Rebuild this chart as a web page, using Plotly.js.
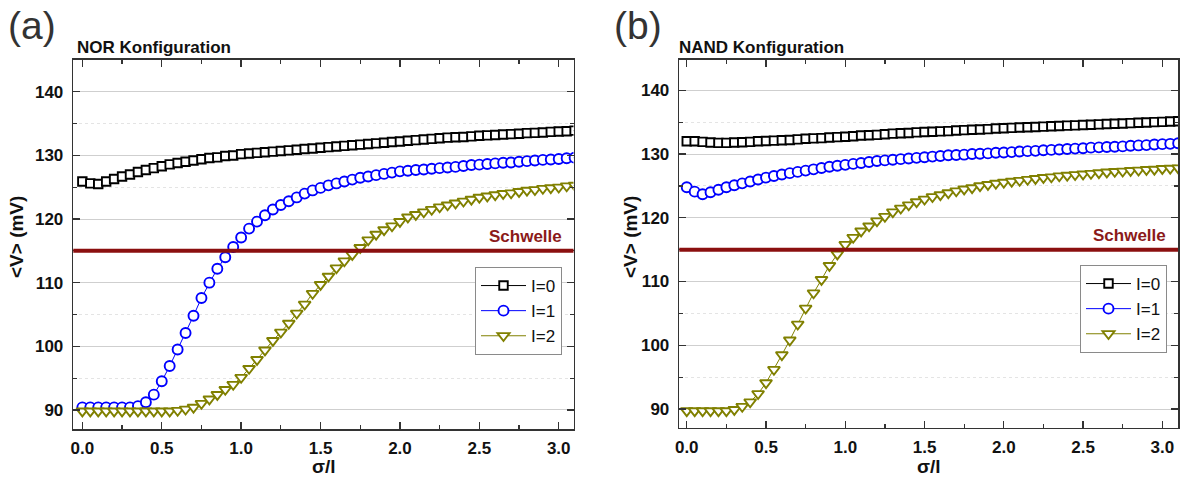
<!DOCTYPE html>
<html>
<head>
<meta charset="utf-8">
<script src="https://cdn.plot.ly/plotly-3.0.1.min.js"></script>
<style>
  html, body { margin: 0; padding: 0; background: #ffffff; }
  #chart { width: 1183px; height: 477px; }
</style>
</head>
<body>
<div id="chart"></div>
<script>
// sigma/l sample positions (shared by every curve)
const sigma = [
  0.00, 0.05, 0.10, 0.15, 0.20, 0.25, 0.30, 0.35, 0.40, 0.45,
  0.50, 0.55, 0.60, 0.65, 0.70, 0.75, 0.80, 0.85, 0.90, 0.95,
  1.00, 1.05, 1.10, 1.15, 1.20, 1.25, 1.30, 1.35, 1.40, 1.45,
  1.50, 1.55, 1.60, 1.65, 1.70, 1.75, 1.80, 1.85, 1.90, 1.95,
  2.00, 2.05, 2.10, 2.15, 2.20, 2.25, 2.30, 2.35, 2.40, 2.45,
  2.50, 2.55, 2.60, 2.65, 2.70, 2.75, 2.80, 2.85, 2.90, 2.95,
  3.00, 3.05, 3.10
];

// (a) NOR configuration, <V> in mV
const norI0 = [
  125.9, 125.6, 125.5, 125.9, 126.3, 126.7, 127.0, 127.4, 127.7, 128.0,
  128.3, 128.6, 128.8, 129.0, 129.2, 129.4, 129.6, 129.7, 129.9, 130.0,
  130.2, 130.3, 130.4, 130.5, 130.6, 130.7, 130.8, 130.9, 131.0, 131.1,
  131.2, 131.3, 131.4, 131.5, 131.6, 131.7, 131.8, 131.9, 132.0, 132.1,
  132.2, 132.3, 132.4, 132.5, 132.6, 132.7, 132.8, 132.85, 132.9, 133.0,
  133.1, 133.15, 133.2, 133.3, 133.35, 133.4, 133.5, 133.55, 133.6, 133.7,
  133.75, 133.8, 133.9
];
const norI1 = [
  90.4, 90.4, 90.4, 90.4, 90.4, 90.4, 90.4, 90.6, 91.2, 92.4,
  94.5, 96.9, 99.5, 102.1, 104.8, 107.6, 110.0, 112.2, 114.0, 115.6,
  117.1, 118.5, 119.6, 120.6, 121.5, 122.2, 122.8, 123.4, 124.0, 124.5,
  124.9, 125.3, 125.6, 125.9, 126.2, 126.5, 126.7, 126.9, 127.1, 127.3,
  127.5, 127.6, 127.7, 127.8, 127.9, 128.0, 128.1, 128.2, 128.35, 128.5,
  128.55, 128.65, 128.75, 128.85, 128.9, 129.0, 129.1, 129.2, 129.3, 129.35,
  129.45, 129.55, 129.65
];
const norI2 = [
  89.8, 89.8, 89.8, 89.8, 89.8, 89.8, 89.8, 89.8, 89.8, 89.8,
  89.8, 89.8, 89.9, 90.1, 90.4, 91.0, 91.7, 92.4, 93.2, 94.0,
  95.1, 96.5, 97.9, 99.4, 100.9, 102.2, 103.6, 105.2, 106.6, 108.3,
  109.7, 111.0, 112.3, 113.4, 114.4, 115.5, 116.7, 117.6, 118.3, 118.9,
  119.6, 120.3, 120.7, 121.1, 121.5, 121.9, 122.2, 122.5, 122.8, 123.1,
  123.4, 123.6, 123.8, 124.0, 124.1, 124.3, 124.5, 124.6, 124.8, 124.9,
  125.0, 125.2, 125.3
];

// (b) NAND configuration, <V> in mV
const nandI0 = [
  132.0, 132.0, 131.9, 131.8, 131.75, 131.75, 131.8, 131.85, 131.9, 132.0,
  132.05, 132.1, 132.15, 132.2, 132.3, 132.4, 132.45, 132.5, 132.6, 132.65,
  132.7, 132.8, 132.9, 132.95, 133.0, 133.1, 133.2, 133.25, 133.3, 133.4,
  133.45, 133.5, 133.55, 133.6, 133.7, 133.75, 133.8, 133.85, 133.9, 134.0,
  134.05, 134.1, 134.15, 134.2, 134.25, 134.3, 134.35, 134.4, 134.45, 134.5,
  134.55, 134.6, 134.65, 134.7, 134.75, 134.8, 134.85, 134.9, 134.95, 135.0,
  135.05, 135.1, 135.15
];
const nandI1 = [
  124.8, 124.1, 123.7, 124.0, 124.4, 124.8, 125.1, 125.4, 125.7, 126.0,
  126.3, 126.55, 126.8, 127.0, 127.2, 127.4, 127.6, 127.8, 128.0, 128.15,
  128.3, 128.45, 128.6, 128.75, 128.9, 129.0, 129.1, 129.2, 129.3, 129.4,
  129.5, 129.6, 129.7, 129.8, 129.85, 129.9, 130.0, 130.05, 130.1, 130.2,
  130.25, 130.3, 130.4, 130.45, 130.5, 130.6, 130.65, 130.7, 130.8, 130.85,
  130.9, 131.0, 131.05, 131.1, 131.15, 131.2, 131.3, 131.35, 131.4, 131.5,
  131.55, 131.6, 131.7
];
const nandI2 = [
  89.7, 89.7, 89.7, 89.7, 89.7, 89.7, 89.9, 90.4, 91.1, 92.4,
  94.1, 96.2, 98.5, 100.8, 103.3, 105.8, 108.2, 110.3, 112.5, 114.3,
  115.8, 116.9, 117.9, 118.7, 119.5, 120.2, 120.9, 121.5, 122.0, 122.5,
  122.9, 123.3, 123.6, 123.9, 124.2, 124.5, 124.7, 125.0, 125.2, 125.4,
  125.55, 125.7, 125.85, 126.0, 126.15, 126.3, 126.4, 126.55, 126.65, 126.75,
  126.85, 126.95, 127.05, 127.15, 127.25, 127.3, 127.4, 127.45, 127.55, 127.6,
  127.7, 127.75, 127.8
];

const seriesNames = ['I=0', 'I=1', 'I=2'];
const threshold = 115;          // Schwelle, mV
const xTickVals = [0, 0.5, 1.0, 1.5, 2.0, 2.5, 3.0];
const yTickVals = [90, 100, 110, 120, 130, 140];

const FONT = 'Liberation Sans, Arial, Helvetica, sans-serif';
const styles = [
  { color: '#000000', symbol: 'square', size: 8.5 },
  { color: '#0000ff', symbol: 'circle', size: 10 },
  { color: '#808000', symbol: 'triangle-down', size: 10.5 }
];

function curve(y, i, xa, ya, legendName) {
  const s = styles[i];
  return {
    type: 'scatter', mode: 'lines+markers',
    x: sigma, y: y, name: seriesNames[i],
    xaxis: xa, yaxis: ya, legend: legendName,
    legendgroup: legendName + i,
    line: { color: s.color, width: 1 },
    marker: { symbol: s.symbol, size: s.size, color: '#ffffff',
              line: { color: s.color, width: 1.9 } }
  };
}

const traces = [
  curve(norI0, 0, 'x', 'y', 'legend'),
  curve(norI1, 1, 'x', 'y', 'legend'),
  curve(norI2, 2, 'x', 'y', 'legend'),
  curve(nandI0, 0, 'x2', 'y2', 'legend2'),
  curve(nandI1, 1, 'x2', 'y2', 'legend2'),
  curve(nandI2, 2, 'x2', 'y2', 'legend2')
];

function xAxis(domain, range, anchor) {
  return {
    domain: domain, range: range, anchor: anchor,
    tickvals: xTickVals, tickformat: '.1f',
    ticks: 'inside', ticklen: 7, tickwidth: 1.3, tickcolor: '#333',
    minor: { dtick: 0.25, tick0: 0, ticks: 'inside', ticklen: 4, tickwidth: 1.2, tickcolor: '#333', showgrid: false },
    showline: true, linecolor: '#333', linewidth: 1.6, mirror: 'allticks',
    showgrid: false, zeroline: false,
    tickfont: { family: FONT, size: 17, color: '#111', weight: 700 },
    ticklabelstandoff: 3
  };
}
function yAxis(domain, range, anchor) {
  return {
    domain: domain, range: range, anchor: anchor,
    tickvals: yTickVals,
    ticks: 'inside', ticklen: 7, tickwidth: 1.3, tickcolor: '#333',
    minor: { dtick: 5, tick0: 0, ticks: 'inside', ticklen: 4, tickwidth: 1.2, tickcolor: '#333',
             showgrid: true, gridcolor: '#e4e4e4', griddash: 'dot', gridwidth: 1 },
    showline: true, linecolor: '#333', linewidth: 1.6, mirror: 'allticks',
    showgrid: true, gridcolor: '#cfcfcf', gridwidth: 1, zeroline: false,
    tickfont: { family: FONT, size: 17, color: '#111', weight: 700 },
    ticklabelstandoff: 5
  };
}

function txt(text, x, y, opts) {
  return Object.assign({
    text: text, xref: 'paper', yref: 'paper', x: x, y: y,
    showarrow: false, xanchor: 'left', yanchor: 'middle'
  }, opts);
}
const W = 1183, H = 477;
const px = v => v / W, py = v => 1 - v / H;
const boldFont = (size, color) => ({ family: FONT, size: size, color: color || '#111', weight: 700 });

const legendStyle = (x, y) => ({
  x: x, y: y, xanchor: 'left', yanchor: 'top', xref: 'paper', yref: 'paper',
  bgcolor: '#ffffff', bordercolor: '#8a8a8a', borderwidth: 1,
  font: { family: FONT, size: 17, color: '#111' },
  tracegroupgap: 0, itemwidth: 45
});

const layout = {
  width: W, height: H,
  margin: { l: 0, r: 0, t: 0, b: 0 },
  paper_bgcolor: '#ffffff', plot_bgcolor: '#ffffff',
  showlegend: true,
  xaxis: xAxis([px(73.3), px(573.5)], [-0.057, 3.093], 'y'),
  yaxis: yAxis([1 - 429 / H, py(60)], [87.0, 145.0], 'x'),
  xaxis2: xAxis([px(679.3), px(1178)], [-0.047, 3.099], 'y2'),
  yaxis2: yAxis([1 - 427.7 / H, py(60)], [87.07, 144.75], 'x2'),
  legend: legendStyle(px(475), py(267)),
  legend2: legendStyle(px(1080), py(265)),
  shapes: [
    { type: 'line', xref: 'x domain', yref: 'y', x0: 0, x1: 1, y0: threshold, y1: threshold,
      line: { color: '#8b0f0f', width: 4 }, layer: 'above' },
    { type: 'line', xref: 'x2 domain', yref: 'y2', x0: 0, x1: 1, y0: threshold, y1: threshold,
      line: { color: '#8b0f0f', width: 4 }, layer: 'above' }
  ],
  annotations: [
    txt('(a)', px(6), py(25), { font: { family: FONT, size: 39, color: '#333' } }),
    txt('(b)', px(612), py(25), { font: { family: FONT, size: 39, color: '#333' } }),
    txt('NOR Konfiguration', px(75), py(47), { font: boldFont(17) }),
    txt('NAND Konfiguration', px(677), py(47), { font: boldFont(17) }),
    txt('&lt;V&gt; (mV)', px(16), py(237), { xanchor: 'center', textangle: -90, font: boldFont(19) }),
    txt('&lt;V&gt; (mV)', px(630), py(237), { xanchor: 'center', textangle: -90, font: boldFont(19) }),
    txt('σ/l', px(324), py(466), { xanchor: 'center', font: boldFont(19) }),
    txt('σ/l', px(929), py(466), { xanchor: 'center', font: boldFont(19) }),
    { text: 'Schwelle', xref: 'x', yref: 'y', x: 3.03, y: threshold, yshift: 14,
      xanchor: 'right', yanchor: 'middle', showarrow: false, font: boldFont(17, '#8b1a1a') },
    { text: 'Schwelle', xref: 'x2', yref: 'y2', x: 3.035, y: threshold, yshift: 14,
      xanchor: 'right', yanchor: 'middle', showarrow: false, font: boldFont(17, '#8b1a1a') }
  ]
};

Plotly.newPlot('chart', traces, layout, { displayModeBar: false, staticPlot: true });
</script>
</body>
</html>
